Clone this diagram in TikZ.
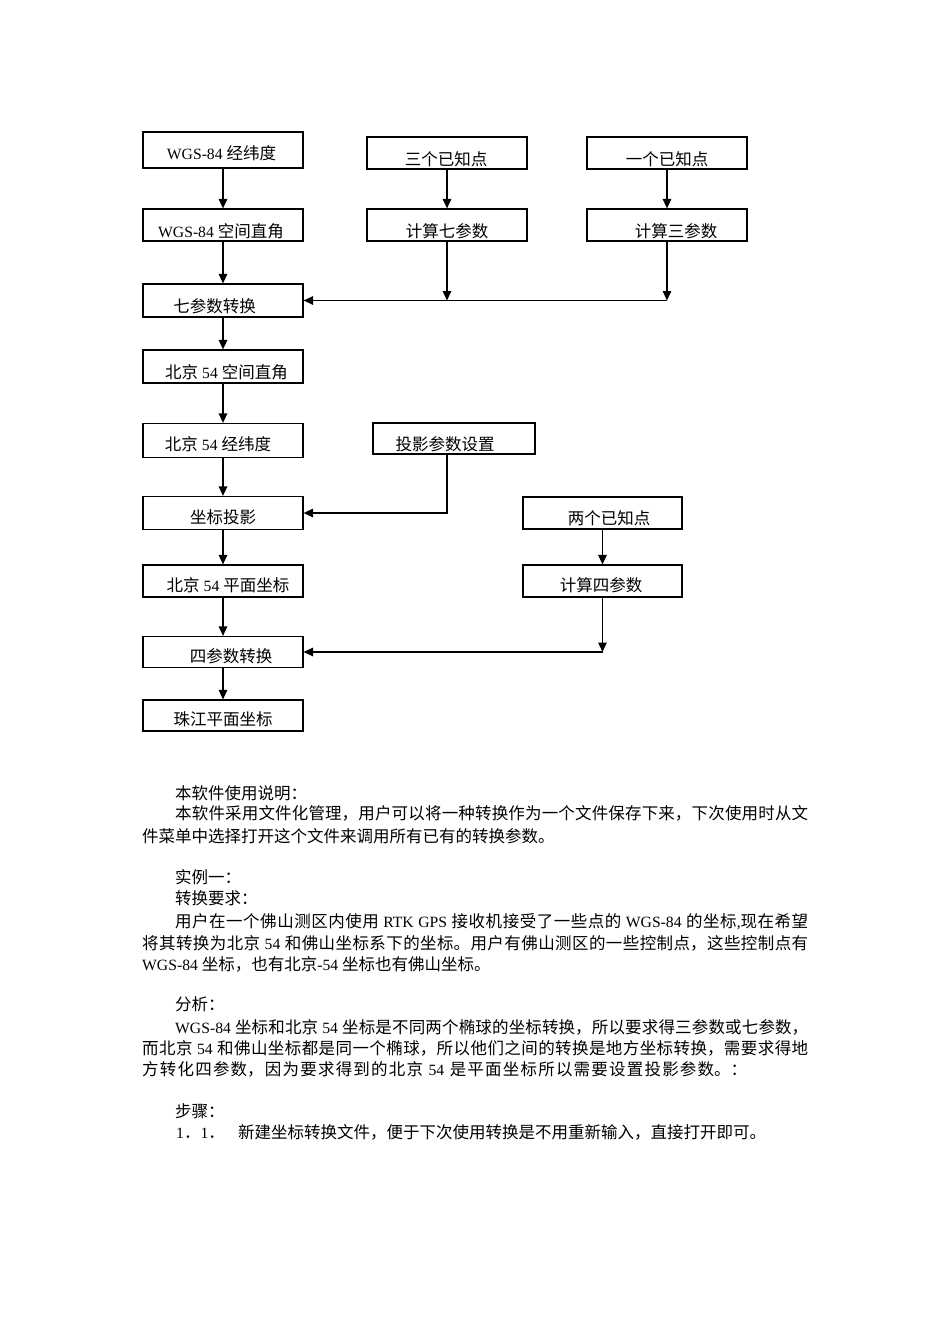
\documentclass[tikz,border=0pt]{standalone}
\usepackage{fontspec}
\setmainfont{Noto Sans CJK SC}
\newfontfamily\tm{Liberation Serif}[Scale=0.95]
\usetikzlibrary{arrows.meta}
\XeTeXlinebreaklocale "zh"
\XeTeXlinebreakskip=0pt plus 1.5pt
\newcommand\bt[3]{\raisebox{\dimexpr-6.3pt-#2pt\relax}[0pt][0pt]{\makebox[0pt]{\hspace*{#1pt}\hspace*{#1pt}#3}}}
\newcommand\jl[2]{\parbox[b]{#1}{\tolerance=10000 \hbadness=10000 \parfillskip=0pt \noindent #2}}
\begin{document}
\begin{tikzpicture}[x=1pt,y=-1pt,
  font=\fontsize{16.5}{22}\selectfont,
  box/.style={draw=black, line width=1.2pt, minimum width=160pt, inner sep=0pt},
  arr/.style={line width=1.4pt, -{Triangle[length=9.5pt,width=8.5pt]}},
  txt/.style={anchor=base west, inner sep=0pt}]
\useasboundingbox (0,0) rectangle (950,1344);

% left column
\node[box, minimum height=36pt] (w1) at (223,150) {\bt{-1.5}{3}{{\tm WGS-84 }经纬度}};
\node[box, minimum height=32pt] (w2) at (223,225) {\bt{-2}{6}{{\tm WGS-84 }空间直角}};
\node[box, minimum height=33pt] (q7) at (223,300.5) {\bt{-8.5}{5.5}{七参数转换}};
\node[box, minimum height=33pt] (b1) at (223,366.5) {\bt{3.5}{5.5}{北京{\tm\ 54 }空间直角}};
\node[box, minimum height=34pt] (b2) at (223,440.5) {\bt{-5}{3.5}{北京{\tm\ 54 }经纬度}};
\node[box, minimum height=33pt] (zb) at (223,513) {\bt{0}{4.5}{坐标投影}};
\node[box, minimum height=32pt] (b3) at (223,581) {\bt{5}{4}{北京{\tm\ 54 }平面坐标}};
\node[box, minimum height=31pt] (s4) at (223,652) {\bt{8}{4.5}{四参数转换}};
\node[box, minimum height=31pt] (zj) at (223,715.5) {\bt{0}{4}{珠江平面坐标}};

% right boxes
\node[box, minimum height=32pt] (k3) at (447,153) {\bt{-1}{6}{三个已知点}};
\node[box, minimum height=32pt] (c7) at (447,225) {\bt{0}{6}{计算七参数}};
\node[box, minimum height=32pt] (k1) at (667,153) {\bt{0}{6}{一个已知点}};
\node[box, minimum height=32pt] (c3) at (667,225) {\bt{9}{6}{计算三参数}};
\node[box, minimum height=31pt, minimum width=162pt] (ty) at (454,438.5) {\bt{-9}{5.5}{投影参数设置}};
\node[box, minimum height=32pt, minimum width=159pt] (k2) at (602.5,513) {\bt{6.5}{5}{两个已知点}};
\node[box, minimum height=32pt, minimum width=159pt] (c4) at (602.5,581) {\bt{-1.5}{4}{计算四参数}};

% left column arrows
\draw[arr] (w1) -- (w2);
\draw[arr] (w2) -- (q7);
\draw[arr] (q7) -- (b1);
\draw[arr] (b1) -- (b2);
\draw[arr] (b2) -- (zb);
\draw[arr] (zb) -- (b3);
\draw[arr] (b3) -- (s4);
\draw[arr] (s4) -- (zj);

% top right
\draw[arr] (k3) -- (c7);
\draw[arr] (k1) -- (c3);
\coordinate (j7) at (c7.south |- q7.east);
\coordinate (j3) at (c3.south |- q7.east);
\draw[arr] (c7) -- (j7);
\draw[arr] (c3) -- (j3);
\draw[arr] (j3) -- (q7);

% projection
\coordinate (jt) at ([xshift=-7pt]ty.south);
\draw[arr] (jt) |- (zb);

% four parameters
\draw[arr] (k2) -- (c4);
\coordinate (j4) at (c4.south |- s4.east);
\draw[arr] (c4) -- (j4);
\draw[arr] (j4) -- (s4);

% text
\node[txt] (t1) at (175,799.3) {本软件使用说明：};
\node[txt] (t2) at (175,819.8) {\jl{633pt}{本软件采用文件化管理，用户可以将一种转换作为一个文件保存下来，下次使用时从文}};
\node[txt] (t3) at (142,842.8) {件菜单中选择打开这个文件来调用所有已有的转换参数。};
\node[txt] (t4) at (175,883.3) {实例一：};
\node[txt] (t5) at (175,904.3) {转换要求：};
\node[txt] (t6) at (175,927.8) {\jl{633pt}{用户在一个佛山测区内使用{\tm\ RTK GPS }接收机接受了一些点的{\tm\ WGS-84 }的坐标{\tm ,}现在希望}};
\node[txt] (t7) at (142,949.3) {\jl{666pt}{将其转换为北京{\tm\ 54 }和佛山坐标系下的坐标。用户有佛山测区的一些控制点，这些控制点有}};
\node[txt] (t8) at (142,970.3) {{\tm WGS-84 }坐标，也有北京{\tm -54 }坐标也有佛山坐标。};
\node[txt] (t9) at (175,1010.3) {分析：};
\node[txt] (t10) at (175,1033.3) {\jl{633pt}{{\tm WGS-84 }坐标和北京{\tm\ 54 }坐标是不同两个椭球的坐标转换，所以要求得三参数或七参数，}};
\node[txt] (t11) at (142,1054.3) {\jl{666pt}{而北京{\tm\ 54 }和佛山坐标都是同一个椭球，所以他们之间的转换是地方坐标转换，需要求得地}};
\node[txt] (t12) at (142,1075.3) {\jl{605pt}{方转化四参数，因为要求得到的北京{\tm\ 54 }是平面坐标所以需要设置投影参数。：}};
\node[txt] (t13) at (175,1117.3) {步骤：};
\node[txt] (t14) at (176,1138.8) {\makebox[62pt][l]{{\tm 1}．{\tm 1}．}新建坐标转换文件，便于下次使用转换是不用重新输入，直接打开即可。};
\end{tikzpicture}
\end{document}
